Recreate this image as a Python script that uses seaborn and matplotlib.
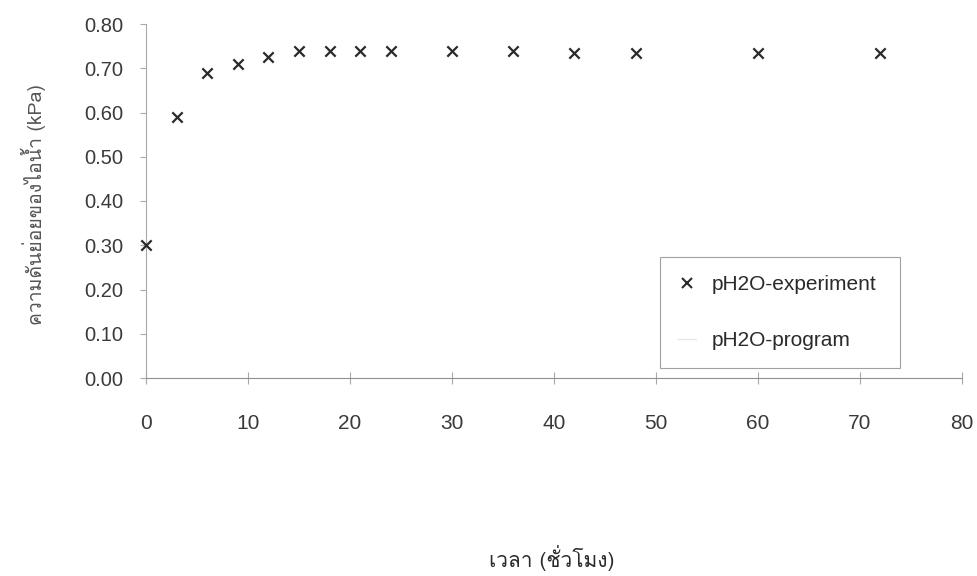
import matplotlib
matplotlib.use("Agg")
import matplotlib.pyplot as plt
from matplotlib import font_manager
import seaborn as sns
import pandas as pd
from matplotlib.lines import Line2D

# ---- data ----
hours = [0, 3, 6, 9, 12, 15, 18, 21, 24, 30, 36, 42, 48, 60, 72]
ph2o_experiment = [0.30, 0.59, 0.69, 0.71, 0.725, 0.74, 0.74, 0.74, 0.74,
                   0.74, 0.74, 0.735, 0.735, 0.735, 0.735]
x_ticks = [0, 10, 20, 30, 40, 50, 60, 70, 80]
y_ticks = [0.00, 0.10, 0.20, 0.30, 0.40, 0.50, 0.60, 0.70, 0.80]
series_labels = ["pH2O-experiment", "pH2O-program"]
x_label = "เวลา (ชั่วโมง)"
y_label = "ความดันย่อยของไอน้ำ (kPa)"

# ---- find a font with Thai glyphs ----
thai_font = None
try:
    from fontTools.ttLib import TTFont
    for fe in font_manager.fontManager.ttflist:
        try:
            f = TTFont(fe.fname, fontNumber=0, lazy=True)
            cmap = f.getBestCmap()
            if cmap and 0x0E27 in cmap and 0x0E32 in cmap:
                thai_font = fe.name
                break
        except Exception:
            continue
except Exception:
    pass

sns.set_theme(style="white")
base = ["Liberation Sans", "DejaVu Sans"]
plt.rcParams["font.family"] = base
thai_fam = ([thai_font] if thai_font else []) + base
narrow_fam = ["Liberation Sans Narrow", "Liberation Sans", "DejaVu Sans"]

df = pd.DataFrame({"hours": hours, "p": ph2o_experiment})

fig = plt.figure(figsize=(9.77, 5.76), dpi=100)
ax = fig.add_axes([146 / 977, 1 - 378 / 576, (962 - 146) / 977, (378 - 24) / 576])

sns.scatterplot(data=df, x="hours", y="p", marker="x", color="#2a2a2a",
                s=55, linewidth=1.6, ax=ax, legend=False, zorder=3, clip_on=False)

ax.set_xlim(0, 80)
ax.set_ylim(0, 0.80)
ax.set_xticks(x_ticks)
ax.set_yticks(y_ticks)
ax.set_xticklabels([str(t) for t in x_ticks], family=narrow_fam)
ax.set_yticklabels([f"{t:.2f}" for t in y_ticks])

for s in ["top", "right"]:
    ax.spines[s].set_visible(False)
ax.spines["left"].set_color("#a8a8a8")
ax.spines["left"].set_linewidth(0.8)
ax.spines["bottom"].set_color("#909090")
ax.spines["bottom"].set_linewidth(0.8)

ax.tick_params(axis="y", direction="out", length=4.5, width=0.8, color="#a8a8a8",
               labelsize=14.5, labelcolor="#3a3a3a", pad=12, left=True)
ax.tick_params(axis="x", direction="inout", length=8, width=0.8, color="#a8a8a8",
               labelsize=15, labelcolor="#3a3a3a", pad=22, bottom=True)

ax.set_xlabel("")
ax.set_ylabel("")
fig.text(552 / 977, 1 - 558 / 576, x_label, ha="center", va="center",
         fontsize=15, color="#2a2a2a", family=thai_fam)
fig.text(33 / 977, 1 - 205 / 576, y_label, ha="center", va="center",
         rotation=90, fontsize=14, color="#555555", family=thai_fam)

handles = [
    Line2D([], [], marker="x", linestyle="none", color="#2a2a2a",
           markersize=7, markeredgewidth=1.5),
    Line2D([], [], color="#e6e6e6", linewidth=1.0),
]
leg = ax.legend(handles, series_labels, loc="lower left",
                bbox_to_anchor=(0.63, 0.028, 0.294, 0.319), mode="expand",
                fontsize=15, frameon=True, fancybox=False, borderpad=0.85,
                labelspacing=1.8, handlelength=0.87, handletextpad=0.77,
                borderaxespad=0, labelcolor="#2a2a2a")
leg.get_frame().set_edgecolor("#8a8a8a")
leg.get_frame().set_linewidth(0.8)

fig.savefig("out.png", dpi=100)
